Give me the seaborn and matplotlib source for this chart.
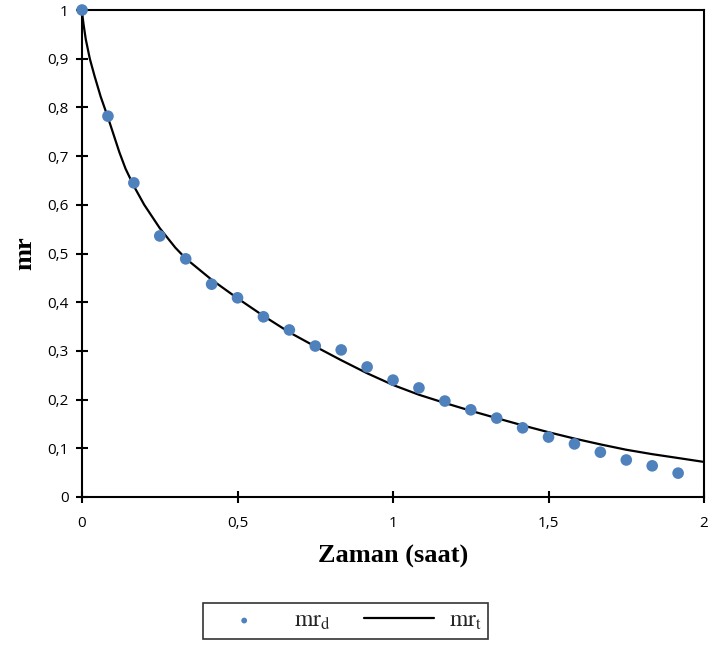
import numpy as np
import pandas as pd
import matplotlib.pyplot as plt
import seaborn as sns

# measured points (mr_d)
zaman_d = [0, 1/12, 2/12, 3/12, 4/12, 5/12, 6/12, 7/12, 8/12, 9/12, 10/12, 11/12,
           1, 13/12, 14/12, 15/12, 16/12, 17/12, 18/12, 19/12, 20/12, 21/12, 22/12, 23/12]
mr_d = [1.0, 0.782, 0.645, 0.536, 0.489, 0.437, 0.409, 0.370, 0.343, 0.310, 0.302, 0.267,
        0.240, 0.224, 0.197, 0.179, 0.162, 0.142, 0.123, 0.109, 0.092, 0.076, 0.064, 0.049]

# model curve (mr_t)
zaman_t = [0, 0.002, 0.005, 0.012, 0.025, 0.04, 0.06, 0.083, 0.1, 0.12, 0.14, 0.167, 0.2,
           0.25, 0.3, 0.333, 0.417, 0.5, 0.583, 0.667, 0.75, 0.833, 0.917, 1.0, 1.083,
           1.167, 1.25, 1.333, 1.417, 1.5, 1.583, 1.667, 1.75, 1.833, 1.917, 2.0]
mr_t = [1.0, 0.985, 0.97, 0.94, 0.90, 0.865, 0.822, 0.78, 0.747, 0.708, 0.674, 0.638, 0.60,
        0.552, 0.512, 0.490, 0.446, 0.408, 0.372, 0.338, 0.309, 0.281, 0.254, 0.230, 0.210,
        0.193, 0.177, 0.162, 0.147, 0.133, 0.120, 0.108, 0.097, 0.088, 0.080, 0.072]

x_ticks = [0, 0.5, 1, 1.5, 2]
x_labels = ['0', '0,5', '1', '1,5', '2']
y_ticks = [0, 0.1, 0.2, 0.3, 0.4, 0.5, 0.6, 0.7, 0.8, 0.9, 1]
y_labels = ['0', '0,1', '0,2', '0,3', '0,4', '0,5', '0,6', '0,7', '0,8', '0,9', '1']

sns.set_style('white')
plt.rcParams['font.family'] = ['Open Sans', 'DejaVu Sans']
plt.rcParams['mathtext.fontset'] = 'stix'

df_d = pd.DataFrame({'t': zaman_d, 'mr': mr_d})
df_t = pd.DataFrame({'t': zaman_t, 'mr': mr_t})

fig = plt.figure(figsize=(7.09, 6.5), dpi=100)
ax = fig.add_axes([0.1157, 0.2354, 0.8773, 0.7492])

sns.lineplot(data=df_t, x='t', y='mr', ax=ax, color='black', linewidth=1.6,
             label=r'$\mathrm{mr}_{\mathrm{t}}$', sort=False, zorder=2)
sns.scatterplot(data=df_d, x='t', y='mr', ax=ax, color='#4F81BD', s=70, edgecolor='none',
                label=r'$\mathrm{mr}_{\mathrm{d}}$', zorder=3, clip_on=False)

ax.set_xlim(0, 2)
ax.set_ylim(0, 1)
ax.set_xticks(x_ticks)
ax.set_xticklabels(x_labels)
ax.set_yticks(y_ticks)
ax.set_yticklabels(y_labels)
ax.tick_params(axis='both', bottom=True, left=True, direction='inout', length=9, width=1.5,
               color='black', labelcolor='black', labelsize=11, pad=5)
ax.tick_params(axis='x', pad=9)
for sp in ax.spines.values():
    sp.set_color('black')
    sp.set_linewidth(1.5)

ax.set_xlabel('Zaman (saat)', family='Liberation Serif', fontweight='bold', fontsize=19,
              color='black', labelpad=10)
ax.set_ylabel('mr', family='Liberation Serif', fontweight='bold', fontsize=19,
              color='black', labelpad=8)

# legend: dot first, then line
h, l = ax.get_legend_handles_labels()
leg = fig.legend([h[1], h[0]], [l[1], l[0]], loc='center', bbox_to_anchor=(0.487, 0.045),
                 ncol=2, frameon=True, fancybox=False, edgecolor='black', fontsize=17,
                 handlelength=3.0, handletextpad=0.6, columnspacing=1.4, markerscale=0.5,
                 borderpad=0.25, borderaxespad=0)
leg.get_frame().set_linewidth(1.2)
ax.get_legend().remove()

fig.savefig('out.png', dpi=100)
